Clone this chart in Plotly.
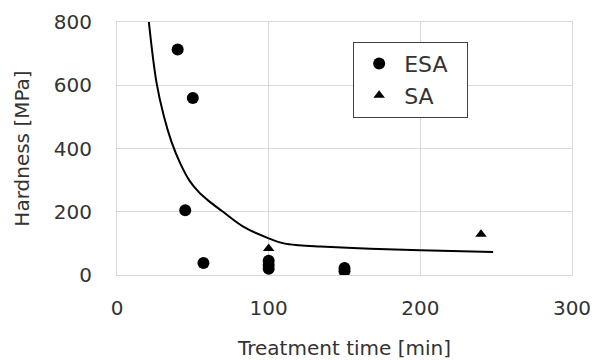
import plotly.graph_objects as go

# ESA data
esa_time = [40, 50, 45, 57, 100, 100, 100, 150, 150]
esa_hard = [713, 560, 205, 38, 45, 32, 20, 22, 12]

# SA data
sa_time = [100, 240]
sa_hard = [84, 129]

# Trend curve
fit_time = [21, 26, 31, 36, 42, 48, 54, 60, 69, 83.5, 100, 110, 120, 134, 167, 200, 248]
fit_hard = [800, 610, 500, 420, 350, 297, 262, 236, 203, 152, 116, 100, 94, 90, 83, 78, 73]

FONT = "DejaVu Sans"
TXT = "#333333"
GRID = "#d9d9d9"

fig = go.Figure()
fig.add_trace(go.Scatter(x=fit_time, y=fit_hard, mode="lines",
                         line=dict(color="black", width=2, shape="spline", smoothing=1.0),
                         showlegend=False, hoverinfo="skip"))
fig.add_trace(go.Scatter(x=esa_time, y=esa_hard, mode="markers", name="ESA\u00a0\u00a0",
                         marker=dict(symbol="circle", size=12, color="black")))
fig.add_trace(go.Scatter(x=sa_time, y=sa_hard, mode="markers", name="SA",
                         marker=dict(symbol="triangle-up", size=10, color="black")))

fig.update_layout(
    width=594, height=360,
    margin=dict(l=117, r=22, t=22, b=85, autoexpand=False),
    paper_bgcolor="white", plot_bgcolor="white",
    font=dict(family=FONT, size=20, color=TXT),
    legend=dict(x=0.519, y=0.922, xanchor="left", yanchor="top",
                bordercolor="#404040", borderwidth=1, bgcolor="white",
                font=dict(size=22, color=TXT, family=FONT), itemwidth=40,
                tracegroupgap=0),
    xaxis=dict(range=[0, 300], tickvals=[0, 100, 200, 300],
               showgrid=True, gridcolor=GRID, gridwidth=1,
               showline=True, linecolor=GRID, linewidth=1, mirror=True,
               zeroline=False, ticks="", ticklabelstandoff=15, automargin=False,
               title=dict(text="Treatment time [min]", standoff=23,
                          font=dict(size=20, color=TXT))),
    yaxis=dict(range=[0, 800], tickvals=[0, 200, 400, 600, 800],
               showgrid=True, gridcolor=GRID, gridwidth=1,
               showline=True, linecolor=GRID, linewidth=1, mirror=True,
               zeroline=False, ticks="", ticklabelstandoff=20, automargin=False,
               title=dict(text="Hardness [MPa]", standoff=18,
                          font=dict(size=20, color=TXT))),
)

fig.write_html("out.html", config={"displayModeBar": False},
               post_script="document.body.style.margin='0';document.body.style.overflow='hidden';")
